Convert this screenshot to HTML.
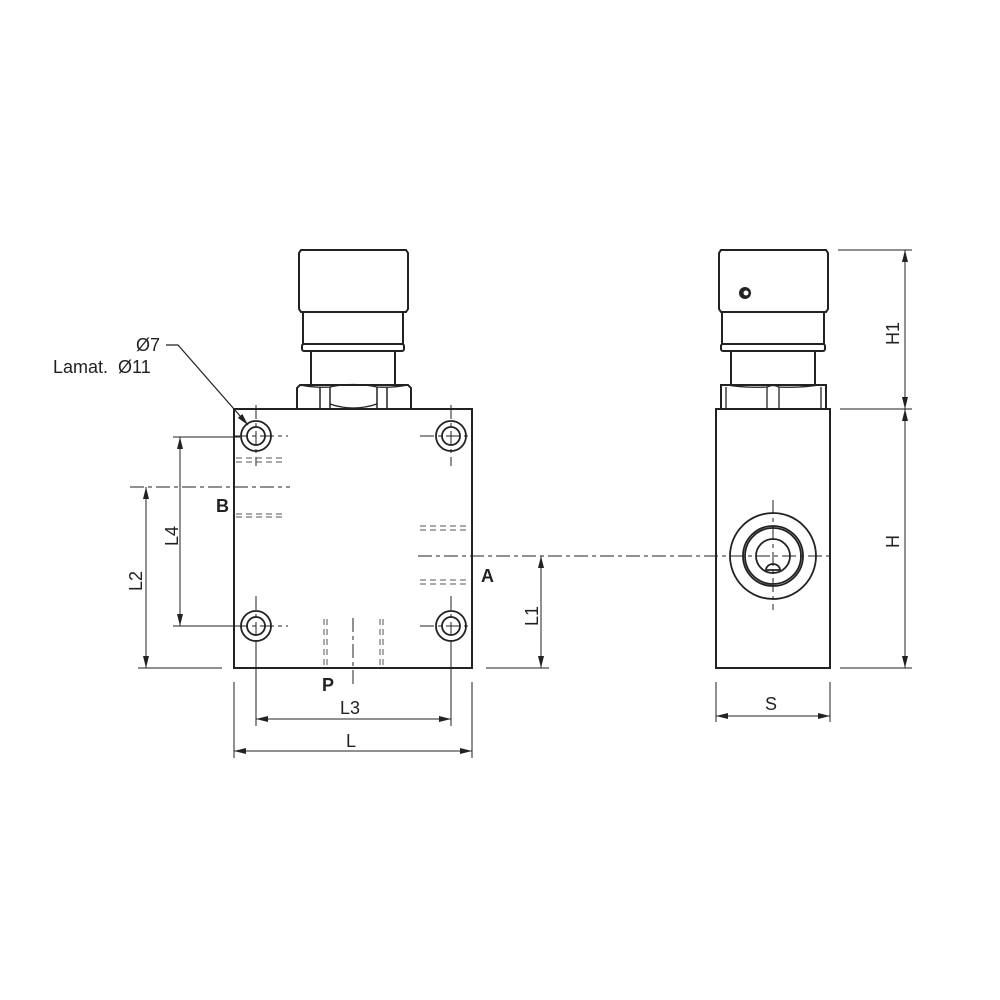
<!DOCTYPE html>
<html><head><meta charset="utf-8"><style>
html,body{margin:0;padding:0;background:#fff;}
svg{display:block;}
text{font-family:"Liberation Sans",sans-serif;fill:#222;}
</style></head><body>
<svg width="1000" height="1000" viewBox="0 0 1000 1000" xmlns="http://www.w3.org/2000/svg">
<defs>
<marker id="ar" viewBox="0 0 12 6" refX="12" refY="3" markerWidth="12" markerHeight="6" orient="auto-start-reverse" markerUnits="userSpaceOnUse"><path d="M0,0 L12,3 L0,6 z" fill="#222"/></marker>
</defs>
<g stroke="#222" fill="none" stroke-width="2">
<rect x="234" y="409" width="238" height="259"/>
<path d="M301,250 H406 L408,253 V309 L406,312 H301 L299,309 V253 Z"/>
<rect x="303" y="312" width="100" height="32"/>
<rect x="302" y="344" width="102" height="7" rx="2"/>
<line x1="311" y1="351" x2="311" y2="385"/><line x1="395" y1="351" x2="395" y2="385"/>
<path d="M297,409 V388 L300,385 H408 L411,388 V409"/>
<path d="M300,385 Q315,388 330,387 Q353,382 377,387 Q392,388 408,385" stroke-width="1.3"/>
<line x1="320" y1="387" x2="320" y2="409" stroke-width="1.5"/><line x1="330" y1="387" x2="330" y2="409" stroke-width="1.5"/>
<line x1="377" y1="387" x2="377" y2="409" stroke-width="1.5"/><line x1="387" y1="387" x2="387" y2="409" stroke-width="1.5"/>
<path d="M330,404 Q353,412 377,404" stroke-width="1.2"/>
<g stroke-width="1.8">
<circle cx="256" cy="436" r="15"/><circle cx="256" cy="436" r="9"/>
<circle cx="451" cy="436" r="15"/><circle cx="451" cy="436" r="9"/>
<circle cx="256" cy="626" r="15"/><circle cx="256" cy="626" r="9"/>
<circle cx="451" cy="626" r="15"/><circle cx="451" cy="626" r="9"/>
</g>
<rect x="716" y="409" width="114" height="259"/>
<path d="M721,250 H826 L828,253 V309 L826,312 H721 L719,309 V253 Z"/>
<rect x="722" y="312" width="102" height="32"/>
<rect x="721" y="344" width="104" height="7" rx="2"/>
<line x1="731" y1="351" x2="731" y2="385"/><line x1="815" y1="351" x2="815" y2="385"/>
<path d="M721,409 V385 H826 V409"/>
<path d="M727,385 Q745,388 767,387 Q773,384 779,387 Q800,388 819,385" stroke-width="1.3"/>
<g stroke-width="1.3">
<line x1="726" y1="387" x2="726" y2="409"/>
<line x1="767" y1="387" x2="767" y2="409"/><line x1="779" y1="387" x2="779" y2="409"/>
<line x1="821" y1="387" x2="821" y2="409"/>
</g>
<g stroke-width="1.8">
<circle cx="773" cy="556" r="43"/><circle cx="773" cy="556" r="30"/><circle cx="773" cy="556" r="28"/><circle cx="773" cy="556" r="17"/>
<path d="M766,570 A7,6 0 0 1 780,570 Z"/>
</g>
</g>
<circle cx="745" cy="293" r="6" fill="#222"/><circle cx="746" cy="293" r="2.5" fill="#fff"/>
<g stroke="#222" stroke-width="1" fill="none">
<g stroke-dasharray="14,4,4,4">
<line x1="234" y1="436" x2="288" y2="436"/><line x1="420" y1="436" x2="472" y2="436"/>
<line x1="420" y1="626" x2="472" y2="626"/><line x1="234" y1="626" x2="288" y2="626"/>
<line x1="256" y1="405" x2="256" y2="466"/><line x1="451" y1="405" x2="451" y2="466"/>
<line x1="256" y1="596" x2="256" y2="640"/><line x1="451" y1="596" x2="451" y2="640"/>
<line x1="130" y1="487" x2="290" y2="487"/>
<line x1="418" y1="556" x2="830" y2="556"/>
<line x1="353" y1="618" x2="353" y2="686"/>
<line x1="773" y1="500" x2="773" y2="610"/>
</g>
<g stroke-dasharray="6,4" stroke="#555">
<line x1="236" y1="458" x2="284" y2="458"/><line x1="236" y1="462" x2="284" y2="462"/>
<line x1="236" y1="514" x2="284" y2="514"/><line x1="236" y1="517" x2="284" y2="517"/>
<line x1="420" y1="526" x2="470" y2="526"/><line x1="420" y1="530" x2="470" y2="530"/>
<line x1="420" y1="580" x2="470" y2="580"/><line x1="420" y1="584" x2="470" y2="584"/>
<line x1="324" y1="619" x2="324" y2="668"/><line x1="327" y1="619" x2="327" y2="668"/>
<line x1="380" y1="619" x2="380" y2="668"/><line x1="383" y1="619" x2="383" y2="668"/>
</g>
<line x1="173" y1="437" x2="240" y2="437"/><line x1="173" y1="626" x2="240" y2="626"/>
<line x1="138" y1="668" x2="222" y2="668"/>
<line x1="486" y1="668" x2="549" y2="668"/>
<line x1="256" y1="640" x2="256" y2="726"/><line x1="451" y1="640" x2="451" y2="726"/>
<line x1="234" y1="682" x2="234" y2="758"/><line x1="472" y1="682" x2="472" y2="758"/>
<line x1="716" y1="682" x2="716" y2="722"/><line x1="830" y1="682" x2="830" y2="722"/>
<line x1="838" y1="250" x2="912" y2="250"/><line x1="840" y1="409" x2="912" y2="409"/><line x1="840" y1="668" x2="912" y2="668"/>
<line x1="180" y1="437" x2="180" y2="626" marker-start="url(#ar)" marker-end="url(#ar)"/>
<line x1="146" y1="487" x2="146" y2="668" marker-start="url(#ar)" marker-end="url(#ar)"/>
<line x1="541" y1="556" x2="541" y2="668" marker-start="url(#ar)" marker-end="url(#ar)"/>
<line x1="256" y1="719" x2="451" y2="719" marker-start="url(#ar)" marker-end="url(#ar)"/>
<line x1="234" y1="751" x2="472" y2="751" marker-start="url(#ar)" marker-end="url(#ar)"/>
<line x1="716" y1="716" x2="830" y2="716" marker-start="url(#ar)" marker-end="url(#ar)"/>
<line x1="905" y1="250" x2="905" y2="409" marker-start="url(#ar)" marker-end="url(#ar)"/>
<line x1="905" y1="409" x2="905" y2="668" marker-start="url(#ar)" marker-end="url(#ar)"/>
<polyline points="166,345 178,345 248,425" marker-end="url(#ar)" stroke-width="1.2"/>
</g>
<g font-size="18">
<text x="136" y="351">Ø7</text>
<text x="53" y="373">Lamat.&#160;&#160;Ø11</text>
<text x="340" y="714">L3</text>
<text x="346" y="747">L</text>
<text x="765" y="710">S</text>
<text transform="translate(178,546) rotate(-90)">L4</text>
<text transform="translate(142,591) rotate(-90)">L2</text>
<text transform="translate(538,626) rotate(-90)">L1</text>
<text transform="translate(899,345) rotate(-90)">H1</text>
<text transform="translate(899,548) rotate(-90)">H</text>
</g>
<g font-size="18" font-weight="bold">
<text x="216" y="512">B</text>
<text x="481" y="582">A</text>
<text x="322" y="691">P</text>
</g>
</svg>
</body></html>
